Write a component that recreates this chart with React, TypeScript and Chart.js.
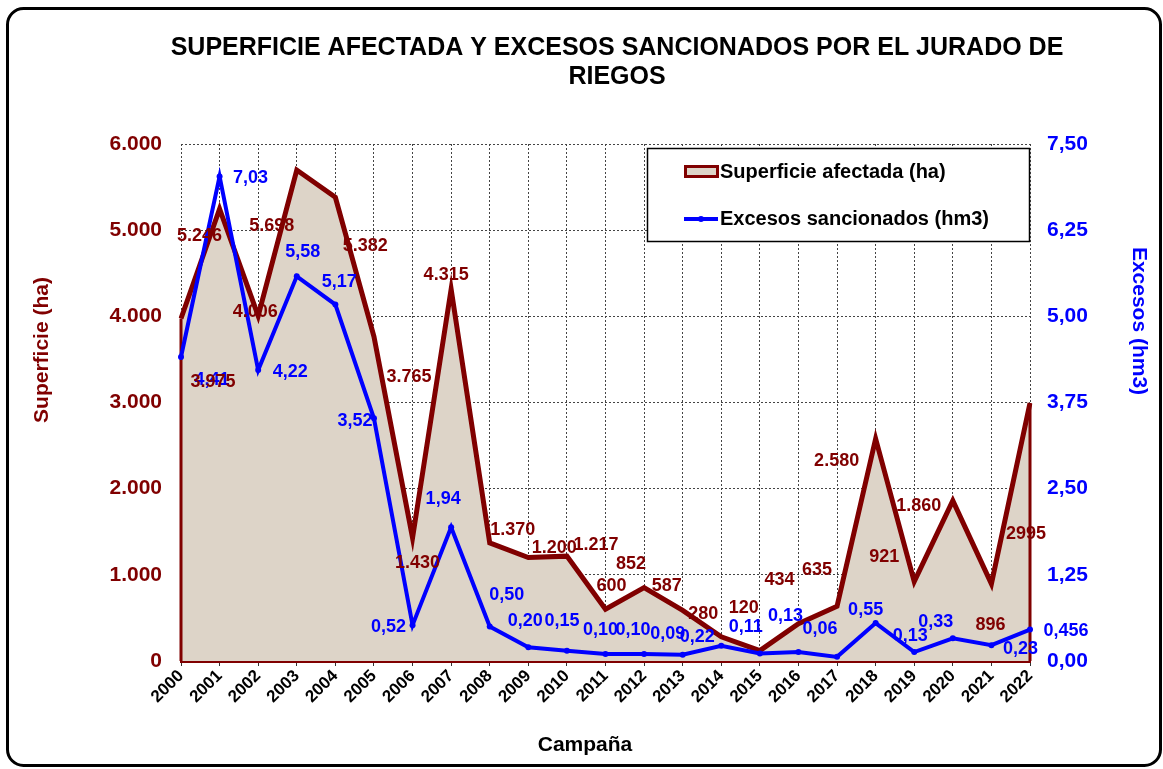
import React, { useEffect, useRef } from 'react';
import { Chart, registerables } from 'chart.js';

Chart.register(...registerables);

// ---------- data ----------
const campaigns = ['2000', '2001', '2002', '2003', '2004', '2005', '2006', '2007', '2008', '2009', '2010', '2011', '2012', '2013', '2014', '2015', '2016', '2017', '2018', '2019', '2020', '2021', '2022'];

const superficieHa = [3975, 5246, 4006, 5698, 5382, 3765, 1430, 4315, 1370, 1200, 1217, 600, 852, 587, 280, 120, 434, 635, 2580, 921, 1860, 896, 2995];
const superficieLabels = ['3.975', '5.246', '4.006', '5.698', '5.382', '3.765', '1.430', '4.315', '1.370', '1.200', '1.217', '600', '852', '587', '280', '120', '434', '635', '2.580', '921', '1.860', '896', '2995'];

const excesosHm3 = [4.41, 7.03, 4.22, 5.58, 5.17, 3.52, 0.52, 1.94, 0.5, 0.2, 0.15, 0.1, 0.1, 0.09, 0.22, 0.11, 0.13, 0.06, 0.55, 0.13, 0.33, 0.23, 0.456];
const excesosLabels = ['4,41', '7,03', '4,22', '5,58', '5,17', '3,52', '0,52', '1,94', '0,50', '0,20', '0,15', '0,10', '0,10', '0,09', '0,22', '0,11', '0,13', '0,06', '0,55', '0,13', '0,33', '0,23', '0,456'];

const titleLines = ['SUPERFICIE AFECTADA Y EXCESOS SANCIONADOS POR EL JURADO DE', 'RIEGOS'];
const seriesNames = ['Superficie afectada (ha)', 'Excesos sancionados (hm3)'];
const leftAxisTitle = 'Superficie (ha)';
const rightAxisTitle = 'Excesos (hm3)';
const xAxisTitle = 'Campaña';

// label placement relative to each point (style, not data)
const superficieLabelShift = [[32, 64], [-20, 27], [-3, -4], [-25, 56], [30, 49], [35, 40], [5, 25], [-5, -14], [23, -13], [26, -10], [29, -11], [6, -23], [-13, -24], [-16, -24], [-18, -23], [-16, -43], [-19, -44], [-20, -36], [-39, 22], [-30, -25], [-34, 5], [-1, 41], [-4, 131]];
const excesosLabelShift = [[31, 23], [31, 2], [32, 2], [6, -24], [4, -23], [-19, 3], [-24, 2], [-8, -28], [17, -32], [-3, -26], [-5, -30], [-5, -24], [-11, -24], [-15, -21], [-24, -9], [-14, -26], [-13, -36], [-17, -28], [-10, -13], [-4, -16], [-17, -16], [29, 4], [36, 1]];

const FONT = "'Liberation Sans', Arial, sans-serif";
const RED = '#800000';
const BLUE = '#0000FF';
const FILL = '#DDD4C8';

const decorPlugin = {
  id: 'decor',
  beforeDraw(chart: any) {
    const ctx = chart.ctx;
    ctx.save();
    ctx.fillStyle = '#ffffff';
    ctx.fillRect(0, 0, chart.width, chart.height);
    ctx.restore();
  },
  afterDatasetDraw(chart: any, args: any) {
    if (args.index !== 0) return;
    const ctx = chart.ctx;
    const meta = chart.getDatasetMeta(0);
    const base = chart.scales.y.getPixelForValue(0);
    const pts = meta.data;
    ctx.save();
    ctx.strokeStyle = RED;
    ctx.lineWidth = 3;
    [pts[0], pts[pts.length - 1]].forEach((p: any) => {
      ctx.beginPath();
      ctx.moveTo(p.x, p.y);
      ctx.lineTo(p.x, base);
      ctx.stroke();
    });
    ctx.restore();
  },
  afterDatasetsDraw(chart: any) {
    const ctx = chart.ctx;
    ctx.save();
    ctx.font = `bold 18px ${FONT}`;
    ctx.textAlign = 'center';
    ctx.textBaseline = 'middle';
    const blue = chart.getDatasetMeta(1).data;
    ctx.fillStyle = BLUE;
    blue.forEach((p: any, i: number) => {
      const s = excesosLabelShift[i];
      ctx.fillText(excesosLabels[i], p.x + s[0], p.y + s[1]);
    });
    const red = chart.getDatasetMeta(0).data;
    ctx.fillStyle = RED;
    red.forEach((p: any, i: number) => {
      const s = superficieLabelShift[i];
      ctx.fillText(superficieLabels[i], p.x + s[0], p.y + s[1]);
    });
    ctx.restore();
  },
  afterDraw(chart: any) {
    const ctx = chart.ctx;
    ctx.save();
    // title
    ctx.fillStyle = '#000';
    ctx.font = `bold 25px ${FONT}`;
    ctx.textAlign = 'center';
    ctx.textBaseline = 'middle';
    ctx.fillText(titleLines[0], 617, 48);
    ctx.fillText(titleLines[1], 617, 77);

    // axis titles
    ctx.font = `bold 21px ${FONT}`;
    ctx.fillText(xAxisTitle, 585, 745);
    ctx.save();
    ctx.translate(42, 350);
    ctx.rotate(-Math.PI / 2);
    ctx.fillStyle = RED;
    ctx.fillText(leftAxisTitle, 0, 0);
    ctx.restore();
    ctx.save();
    ctx.translate(1139, 321);
    ctx.rotate(Math.PI / 2);
    ctx.fillStyle = BLUE;
    ctx.fillText(rightAxisTitle, 0, 0);
    ctx.restore();

    // legend
    ctx.fillStyle = '#fff';
    ctx.fillRect(647.5, 148.5, 382, 93);
    ctx.strokeStyle = '#000';
    ctx.lineWidth = 1.5;
    ctx.strokeRect(647.5, 148.5, 382, 93);
    ctx.fillStyle = FILL;
    ctx.fillRect(685.5, 166.5, 32, 10);
    ctx.strokeStyle = RED;
    ctx.lineWidth = 3;
    ctx.strokeRect(685.5, 166.5, 32, 10);
    ctx.strokeStyle = BLUE;
    ctx.lineWidth = 4;
    ctx.beginPath();
    ctx.moveTo(684, 219);
    ctx.lineTo(718, 219);
    ctx.stroke();
    ctx.fillStyle = BLUE;
    ctx.beginPath();
    ctx.arc(701, 219, 3, 0, Math.PI * 2);
    ctx.fill();
    ctx.fillStyle = '#000';
    ctx.font = `bold 20px ${FONT}`;
    ctx.textAlign = 'left';
    ctx.fillText(seriesNames[0], 720, 172);
    ctx.fillText(seriesNames[1], 720, 219);

    // frame
    ctx.strokeStyle = '#000';
    ctx.lineWidth = 3;
    ctx.beginPath();
    (ctx as any).roundRect(7.5, 8.5, 1153, 757, 16);
    ctx.stroke();
    ctx.restore();
  },
};

export default function App() {
  const ref = useRef<HTMLCanvasElement | null>(null);

  useEffect(() => {
    if (!ref.current) return;
    const chart = new Chart(ref.current, {
      type: 'line',
      data: {
        labels: campaigns,
        datasets: [
          {
            label: seriesNames[0],
            data: superficieHa,
            yAxisID: 'y',
            borderColor: RED,
            borderWidth: 5,
            backgroundColor: FILL,
            fill: 'origin',
            pointRadius: 0,
            tension: 0,
            order: 2,
          },
          {
            label: seriesNames[1],
            data: excesosHm3,
            yAxisID: 'y1',
            borderColor: BLUE,
            borderWidth: 4,
            backgroundColor: BLUE,
            pointBackgroundColor: BLUE,
            pointBorderWidth: 0,
            pointRadius: 3,
            fill: false,
            tension: 0,
            order: 1,
          },
        ],
      },
      options: {
        responsive: false,
        animation: false,
        devicePixelRatio: 1,
        layout: { padding: { top: 144, left: 0, right: 0, bottom: 0 } },
        plugins: {
          legend: { display: false },
          tooltip: { enabled: false },
          title: { display: false },
        },
        scales: {
          x: {
            offset: false,
            grid: { color: '#444', lineWidth: 1, tickLength: 5, tickColor: '#333', tickWidth: 1 },
            border: { color: RED, width: 3, dash: [2, 2] },
            ticks: {
              autoSkip: false,
              maxRotation: 45,
              minRotation: 45,
              padding: 0,
              color: '#000',
              font: { family: FONT, size: 17, weight: 'bold' },
            },
            afterFit(scale: any) {
              scale.height = 108;
            },
          },
          y: {
            position: 'left',
            min: 0,
            max: 6000,
            grid: { color: '#444', lineWidth: 1, drawTicks: false },
            border: { display: false, dash: [2, 2] },
            ticks: {
              stepSize: 1000,
              padding: 19,
              color: RED,
              font: { family: FONT, size: 21, weight: 'bold' },
              callback: (v: any) => Number(v).toLocaleString('de-DE'),
            },
            afterFit(scale: any) {
              scale.width = 181;
            },
          },
          y1: {
            position: 'right',
            min: 0,
            max: 7.5,
            grid: { drawOnChartArea: false, drawTicks: false },
            border: { display: false },
            ticks: {
              stepSize: 1.25,
              padding: 17,
              color: BLUE,
              font: { family: FONT, size: 21, weight: 'bold' },
              callback: (v: any) => Number(v).toFixed(2).replace('.', ','),
            },
            afterFit(scale: any) {
              scale.width = 133;
            },
          },
        },
      } as any,
      plugins: [decorPlugin],
    });
    return () => chart.destroy();
  }, []);

  return (
    <div style={{ position: 'fixed', left: 0, top: 0, width: 1163, height: 769, background: '#fff' }}>
      <canvas ref={ref} width={1163} height={769} style={{ display: 'block', width: 1163, height: 769 }} />
    </div>
  );
}
